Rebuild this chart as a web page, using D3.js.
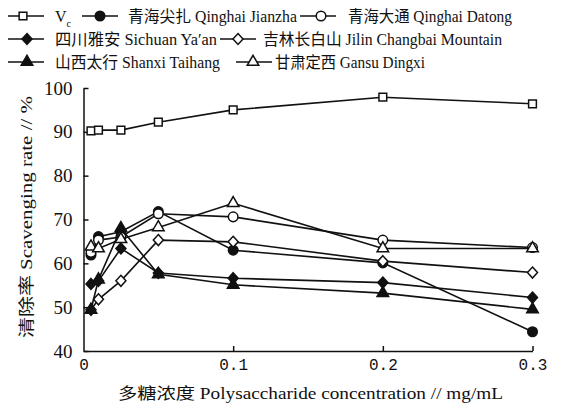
<!DOCTYPE html>
<html>
<head>
<meta charset="utf-8">
<script src="https://cdn.jsdelivr.net/npm/d3@7"></script>
<style>
  body { margin: 0; background: #fff; }
  svg text { fill: #111; }
</style>
</head>
<body>
<div id="chart"></div>
<script>
"use strict";

// concentrations (mg/mL)
var concentrations = [0.005, 0.01, 0.025, 0.05, 0.1, 0.2, 0.3];

// scavenging rate (%) per sample
var vc        = [90.2, 90.4, 90.4, 92.2, 95.0, 97.9, 96.4];
var jianzha   = [61.9, 66.1, 67.2, 71.8, 63.0, 60.1, 44.4];
var datong    = [62.5, 65.3, 66.0, 71.3, 70.6, 65.3, 63.6];
var sichuan   = [55.3, 56.0, 63.4, 57.8, 56.6, 55.6, 52.2];
var jilin     = [49.4, 51.8, 56.0, 65.3, 64.9, 60.5, 57.9];
var shanxi    = [49.4, 56.3, 68.0, 57.5, 55.1, 53.2, 49.5];
var gansu     = [63.8, 63.4, 65.5, 68.2, 73.7, 63.4, 63.4];

var xTicks = [0, 0.1, 0.2, 0.3];
var yTicks = [40, 50, 60, 70, 80, 90, 100];

var series = [
    { name: "Vc", label: null, values: vc, shape: "square", filled: false },
    { name: "jianzha", label: "青海尖扎 Qinghai Jianzha", values: jianzha, shape: "circle", filled: true },
    { name: "datong", label: "青海大通 Qinghai Datong", values: datong, shape: "circle", filled: false },
    { name: "sichuan", label: "四川雅安 Sichuan Ya′an", values: sichuan, shape: "diamond", filled: true },
    { name: "jilin", label: "吉林长白山 Jilin Changbai Mountain", values: jilin, shape: "diamond", filled: false },
    { name: "shanxi", label: "山西太行 Shanxi Taihang", values: shanxi, shape: "triangle", filled: true },
    { name: "gansu", label: "甘肃定西 Gansu Dingxi", values: gansu, shape: "triangle", filled: false }
];

// legend slots: [row, lineStart, markerX, textStart, textWidth]
var legendSlots = [
    [0, 8, 23, 55, 0], [0, 82, 100, 128, 169], [0, 300, 321, 348, 164],
    [1, 8, 27, 55, 162], [1, 220, 238, 263, 239],
    [2, 8, 27, 55, 165], [2, 236, 253, 275, 150]
];
var legendRows = [16, 39, 62];

var width = 570, height = 408;
var font = "'Liberation Serif', 'Noto Sans CJK SC', serif";
var monoFont = "'Liberation Mono', monospace";

var svg = d3.select("#chart").append("svg")
    .attr("width", width)
    .attr("height", height);

var x = d3.scaleLinear().domain([0, 0.3]).range([83.5, 532.5]);
var y = d3.scaleLinear().domain([40, 100]).range([351, 88]);

var diamond = {
    draw: function (ctx, size) {
        var h = Math.sqrt(size) / 2;
        ctx.moveTo(0, -h * 1.1);
        ctx.lineTo(h, 0);
        ctx.lineTo(0, h * 1.1);
        ctx.lineTo(-h, 0);
        ctx.closePath();
    }
};
var symbolTypes = {
    square: d3.symbolSquare,
    circle: d3.symbolCircle,
    diamond: diamond,
    triangle: d3.symbolTriangle
};
var symbolSizes = { square: 60, circle: 72, diamond: 100, triangle: 58 };

function symbolPath(s) {
    return d3.symbol().type(symbolTypes[s.shape]).size(symbolSizes[s.shape])();
}

// axes
var xAxis = d3.axisBottom(x).tickValues(xTicks).tickSizeInner(-5).tickSizeOuter(0)
    .tickPadding(7)
    .tickFormat(function (d) { return d === 0 ? "0" : d3.format(".1f")(d); });
var yAxis = d3.axisLeft(y).tickValues(yTicks).tickSizeInner(-5).tickSizeOuter(0)
    .tickPadding(11);

var gx = svg.append("g")
    .attr("transform", "translate(0," + y(40) + ")")
    .call(xAxis);
gx.selectAll("text").style("font-family", monoFont).style("font-size", "16px").attr("dy", "0.75em");

var gy = svg.append("g")
    .attr("transform", "translate(" + x(0) + ",0)")
    .call(yAxis);
gy.selectAll("text").style("font-family", "'Liberation Serif', serif").style("font-size", "19px");

svg.selectAll(".domain, .tick line").attr("stroke", "#111").attr("stroke-width", 1.5);
gx.selectAll(".tick").filter(function (d) { return d === 0; }).select("line").remove();

// axis titles
svg.append("text")
    .attr("x", 118).attr("y", 399)
    .attr("textLength", 385).attr("lengthAdjust", "spacingAndGlyphs")
    .style("font-family", font).style("font-size", "16px")
    .text("多糖浓度 Polysaccharide concentration // mg/mL");

svg.append("text")
    .attr("transform", "translate(32,338) rotate(-90)")
    .attr("textLength", 242).attr("lengthAdjust", "spacingAndGlyphs")
    .style("font-family", font).style("font-size", "16px")
    .text("清除率 Scavenging rate // %");

// lines and markers
var line = d3.line()
    .x(function (d, i) { return x(concentrations[i]); })
    .y(function (d) { return y(d); });

var groups = svg.append("g").selectAll("g")
    .data(series)
    .enter().append("g");

groups.append("path")
    .attr("d", function (d) { return line(d.values); })
    .attr("fill", "none")
    .attr("stroke", "#111")
    .attr("stroke-width", 1.6);

groups.each(function (s) {
    d3.select(this).selectAll("path.pt")
        .data(s.values)
        .enter().append("path")
        .attr("class", "pt")
        .attr("d", symbolPath(s))
        .attr("transform", function (d, i) {
            return "translate(" + x(concentrations[i]) + "," + y(d) + ")";
        })
        .attr("fill", s.filled ? "#111" : "#fff")
        .attr("stroke", "#111")
        .attr("stroke-width", 1.5);
});

// legend
var legend = svg.append("g").selectAll("g")
    .data(series)
    .enter().append("g")
    .attr("transform", function (d, i) {
        return "translate(0," + legendRows[legendSlots[i][0]] + ")";
    });

legend.append("line")
    .attr("x1", function (d, i) { return legendSlots[i][1]; })
    .attr("x2", function (d, i) { return legendSlots[i][1] + 36; })
    .attr("stroke", "#111")
    .attr("stroke-width", 1.6);

legend.append("path")
    .attr("d", function (d) { return symbolPath(d); })
    .attr("transform", function (d, i) { return "translate(" + legendSlots[i][2] + ",0)"; })
    .attr("fill", function (d) { return d.filled ? "#111" : "#fff"; })
    .attr("stroke", "#111")
    .attr("stroke-width", 1.5);

var legendText = legend.append("text")
    .attr("x", function (d, i) { return legendSlots[i][3]; })
    .attr("y", 6)
    .style("font-family", font)
    .style("font-size", "16px");

legendText.each(function (d, i) {
    var t = d3.select(this);
    if (d.label === null) {
        t.append("tspan").text("V");
        t.append("tspan").attr("dy", 5).style("font-size", "10px").text("c");
    } else {
        t.attr("textLength", legendSlots[i][4])
            .attr("lengthAdjust", "spacingAndGlyphs")
            .text(d.label);
    }
});
</script>
</body>
</html>
